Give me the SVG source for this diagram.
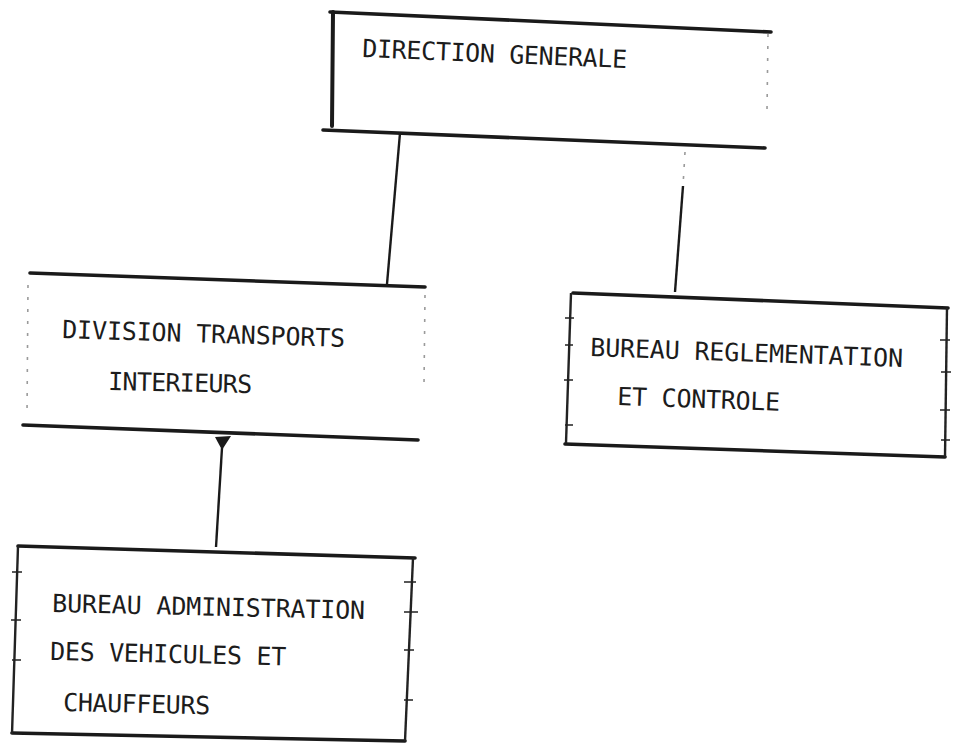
<svg xmlns="http://www.w3.org/2000/svg" width="953" height="745" viewBox="0 0 953 745">
<style>
.edge{stroke:#1a1a1a;stroke-width:3.6;fill:none;stroke-linecap:round}
.side{stroke:#222;stroke-width:2.4;fill:none}
.faint{stroke:#9a9a9a;stroke-width:1.6;fill:none;stroke-dasharray:3 9}
.tick{stroke:#222;stroke-width:1.6;fill:none}
.conn{stroke:#1a1a1a;stroke-width:2.4;fill:none}
.lbl{font-family:"DejaVu Sans Mono","Liberation Mono",monospace;font-size:25px;fill:#1c1c1c}
</style>
<rect width="953" height="745" fill="#ffffff"/>
<g id="connectors">
<path class="conn" d="M400,133 L387,284"/>
<path class="faint" d="M685,152 L683,186"/>
<path class="conn" d="M683,186 L675,292"/>
<path class="conn" d="M222,448 L216,547"/>
<path d="M215,437 L231,436 L222,450 Z" fill="#1a1a1a"/>
</g>
<g id="direction-generale">
<path class="edge" d="M330,12 L771,32"/>
<path class="edge" d="M323,130 L765,148"/>
<path class="edge" d="M333,12 L332,126" style="stroke-width:4"/>
<path class="faint" d="M768,34 L767,110"/>
<text class="lbl" x="362" y="57" textLength="265" lengthAdjust="spacing" transform="rotate(2.4 362 57)">DIRECTION GENERALE</text>
</g>
<g id="division-transports">
<path class="edge" d="M30,273 L425,287"/>
<path class="edge" d="M23,425 L418,440"/>
<path class="faint" d="M28,285 L27,415"/>
<path class="faint" d="M425,295 L424,385"/>
<text class="lbl" x="62" y="338" textLength="283" lengthAdjust="spacing" transform="rotate(1.8 62 338)">DIVISION TRANSPORTS</text>
<text class="lbl" x="108" y="390" textLength="144" lengthAdjust="spacing" transform="rotate(1.2 108 390)">INTERIEURS</text>
</g>
<g id="bureau-reglementation">
<path class="edge" d="M573,293 L948,308"/>
<path class="edge" d="M565,444 L945,457"/>
<path class="side" d="M571,293 L566,443"/>
<path class="side" d="M947,308 L945,457"/>
<path class="tick" d="M565,318 h9 M565,345 h8 M564,380 h9 M565,425 h8 M940,340 h10 M941,372 h10 M940,410 h10 M941,440 h9"/>
<text class="lbl" x="590" y="356" textLength="313" lengthAdjust="spacing" transform="rotate(2 590 356)">BUREAU REGLEMENTATION</text>
<text class="lbl" x="617" y="405" textLength="163" lengthAdjust="spacing" transform="rotate(2 617 405)">ET CONTROLE</text>
</g>
<g id="bureau-administration">
<path class="edge" d="M18,546 L415,558"/>
<path class="edge" d="M12,733 L405,741"/>
<path class="side" d="M18,546 L12,734"/>
<path class="side" d="M413,558 L405,741"/>
<path class="tick" d="M12,572 h10 M11,620 h10 M12,660 h9 M404,582 h12 M404,612 h14 M404,650 h10 M404,700 h9"/>
<text class="lbl" x="52" y="612" textLength="313" lengthAdjust="spacing" transform="rotate(1.3 52 612)">BUREAU ADMINISTRATION</text>
<text class="lbl" x="50" y="660" textLength="236" lengthAdjust="spacing" transform="rotate(1.3 50 660)">DES VEHICULES ET</text>
<text class="lbl" x="63" y="711" textLength="147" lengthAdjust="spacing" transform="rotate(1.3 63 711)">CHAUFFEURS</text>
</g>
</svg>
